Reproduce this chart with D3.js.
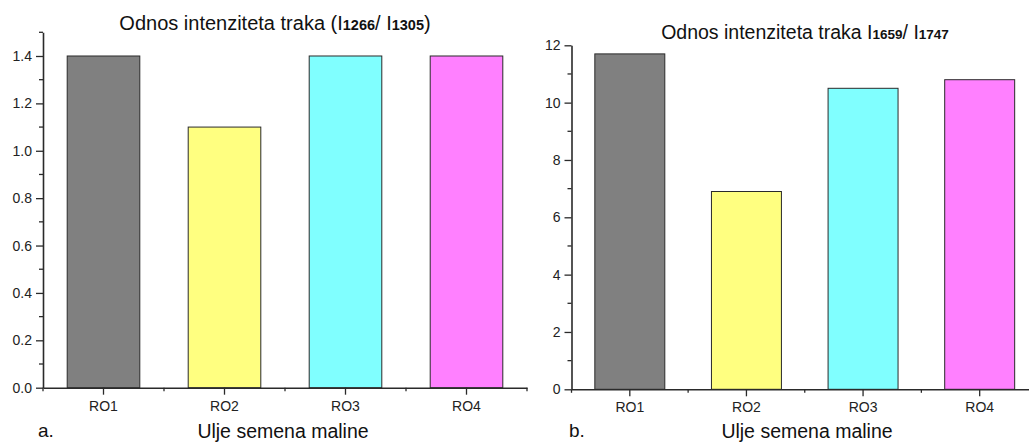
<!DOCTYPE html>
<html><head><meta charset="utf-8">
<script src="https://cdn.jsdelivr.net/npm/d3@7"></script>
<style>body{margin:0;background:#fff}svg{display:block;font-family:"Liberation Sans",Arial,sans-serif}</style>
</head><body><svg id="c" width="1029" height="442"></svg>
<script>
const categories = ["RO1","RO2","RO3","RO4"];
const colors = ["#808080","#ffff80","#80ffff","#ff80ff"];
const valuesA = [1.4, 1.1, 1.4, 1.4];
const valuesB = [11.7, 6.9, 10.5, 10.8];
const ticksA = [0,0.2,0.4,0.6,0.8,1.0,1.2,1.4];
const minorA = [0.1,0.3,0.5,0.7,0.9,1.1,1.3,1.5];
const ticksB = [0,2,4,6,8,10,12];
const minorB = [1,3,5,7,9,11];
const xLabel = "Ulje semena maline";

const svg = d3.select("#c");

function panel(o){
  const g = svg.append("g");
  const x = d3.scaleBand().domain(o.cats).range([o.x0,o.x1]).paddingInner(0.4).paddingOuter(0.2);
  const xb = d3.scaleBand().domain(o.cats).range([o.x0,o.x1]);
  const y = d3.scaleLinear().domain(o.domain).range([o.y0,o.y1]);
  g.selectAll("rect").data(o.vals).join("rect")
    .attr("x",(d,i)=>x(o.cats[i])).attr("width",x.bandwidth())
    .attr("y",d=>y(d)).attr("height",d=>y(0)-y(d))
    .attr("fill",(d,i)=>colors[i]).attr("stroke","#2a2a2a").attr("stroke-width",1);
  const ya = g.append("g").attr("transform",`translate(${o.x0},0)`)
    .call(d3.axisLeft(y).tickValues(o.ticks).tickFormat(o.fmt).tickSizeInner(7).tickSizeOuter(0).tickPadding(4));
  ya.append("g").selectAll("line").data(o.minor).join("line")
    .attr("x1",-4).attr("x2",0).attr("y1",d=>y(d)).attr("y2",d=>y(d)).attr("stroke","#2a2a2a").attr("stroke-width",1.3);
  const xa = g.append("g").attr("transform",`translate(0,${o.y0})`)
    .call(d3.axisBottom(xb).tickSizeInner(7).tickSizeOuter(0).tickPadding(6));
  const bounds = o.cats.map(c=>xb(c)).concat([o.x1]);
  xa.append("g").selectAll("line").data(bounds).join("line")
    .attr("x1",d=>d).attr("x2",d=>d).attr("y1",0).attr("y2",3.5).attr("stroke","#2a2a2a").attr("stroke-width",1.3);
  [ya,xa].forEach(a=>{
    a.select(".domain").attr("stroke","#2a2a2a").attr("stroke-width",1.6);
    a.selectAll(".tick line").attr("stroke","#2a2a2a").attr("stroke-width",1.3);
    a.selectAll("text").attr("font-size",14).attr("fill","#222").attr("font-family","Liberation Sans, Arial, sans-serif");
  });
  const t = g.append("text").attr("x",o.tx).attr("y",o.ty).attr("text-anchor","middle")
    .attr("font-size",o.tfs).attr("fill","#111");
  o.title.forEach(p=>t.append("tspan").text(p[0]).attr("font-size",p[1]?o.sfs:o.tfs).attr("font-weight",p[1]?"bold":"normal"));
  g.append("text").attr("x",o.lx).attr("y",438).attr("text-anchor","middle").attr("font-size",19.5).attr("fill","#111").text(xLabel);
  g.append("text").attr("x",o.px).attr("y",437).attr("font-size",19).attr("fill","#111").text(o.panel);
}

panel({cats:categories, vals:valuesA, domain:[0,1.5], x0:43, x1:527, y0:387.7, y1:32.3,
  ticks:ticksA, minor:minorA, fmt:d3.format(".1f"),
  title:[["Odnos intenziteta traka (I",0],["1266",1],["/ I",0],["1305",1],[")",0]],
  tx:275, ty:30, tfs:20, sfs:14.5, lx:283, px:38, panel:"a."});

panel({cats:categories, vals:valuesB, domain:[0,12], x0:571.5, x1:1038, y0:389.3, y1:45.3,
  ticks:ticksB, minor:minorB, fmt:d3.format("d"),
  title:[["Odnos intenziteta traka I",0],["1659",1],["/ I",0],["1747",1]],
  tx:805, ty:39, tfs:19.5, sfs:13.5, lx:807, px:569, panel:"b."});
</script></body></html>
